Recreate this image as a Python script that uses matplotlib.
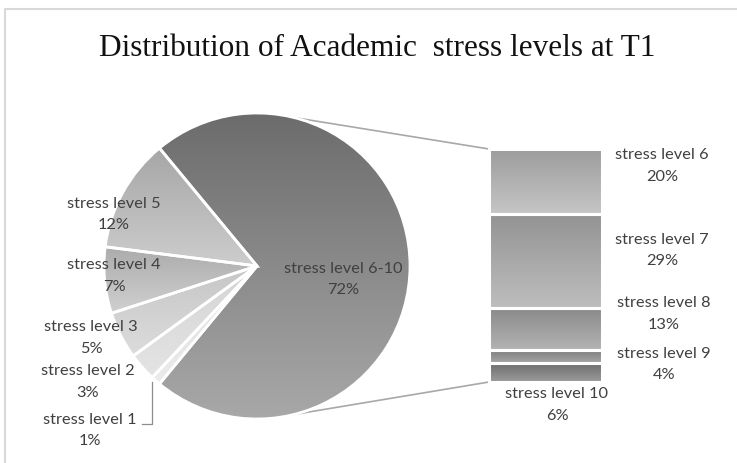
import numpy as np
import matplotlib.pyplot as plt
from matplotlib.colors import LinearSegmentedColormap

# pie: the "6-10" group first, then levels 5..1 counter-clockwise
pie_labels = ["stress level 6-10", "stress level 5", "stress level 4",
              "stress level 3", "stress level 2", "stress level 1"]
pie_values = [72, 12, 7, 5, 3, 1]
pie_top = ["#6c6c6c", "#a6a6a6", "#ababab", "#c6c6c6", "#d4d4d4", "#dedede"]
pie_bot = ["#a8a8a8", "#cdcdcd", "#d0d0d0", "#dcdcdc", "#e4e4e4", "#ebebeb"]

# bar of pie, stacked from the bottom
bar_labels = ["stress level 10", "stress level 9", "stress level 8",
              "stress level 7", "stress level 6"]
bar_values = [6, 4, 13, 29, 20]
bar_top = ["#6a6a6a", "#7c7c7c", "#898989", "#939393", "#9c9c9c"]
bar_bot = ["#9c9c9c", "#a6a6a6", "#b4b4b4", "#bebebe", "#c6c6c6"]

title = "Distribution of Academic  stress levels at T1"

W, H = 737, 464
fig = plt.figure(figsize=(W / 100, H / 100), dpi=100)
ax = fig.add_axes([0, 0, 1, 1])

grad = np.linspace(0, 1, 256).reshape(-1, 1)


def fill_gradient(patch, c_top, c_bot):
    ext = patch.get_path().get_extents(patch.get_patch_transform())
    cmap = LinearSegmentedColormap.from_list("g", [c_top, c_bot])
    im = ax.imshow(grad, cmap=cmap, extent=(ext.x0, ext.x1, ext.y0, ext.y1),
                   aspect="auto", origin="upper", zorder=1)
    im.set_clip_path(patch)


# pie
cx, cy, r = 257, 197, 153
start = -pie_values[0] / sum(pie_values) * 180
wedges, _ = ax.pie(pie_values, radius=r, center=(cx, cy), startangle=start,
                   counterclock=True, frame=True,
                   wedgeprops=dict(edgecolor="white", linewidth=2))
for w, ct, cb in zip(wedges, pie_top, pie_bot):
    fill_gradient(w, ct, cb)
    w.set_facecolor("none")
    w.set_zorder(3)

# bar
bar_x0, bar_x1 = 489, 602
bar_y0, bar_y1 = 81, 314
scale = (bar_y1 - bar_y0) / sum(bar_values)
heights = [v * scale for v in bar_values]
bottoms = bar_y0 + np.concatenate([[0], np.cumsum(heights)[:-1]])
bars = ax.bar((bar_x0 + bar_x1) / 2, heights, bottom=bottoms,
              width=bar_x1 - bar_x0, edgecolor="white", linewidth=2.2)
for b, ct, cb in zip(bars, bar_top, bar_bot):
    fill_gradient(b, ct, cb)
    b.set_facecolor("none")
    b.set_zorder(3)

# connector lines
ang = np.deg2rad(76)
ax.plot([cx + r * np.cos(ang), bar_x0], [cy + r * np.sin(ang), bar_y1],
        color="#a8a8a8", lw=1.2, zorder=2)
ax.plot([cx + r * np.cos(-ang), bar_x0], [cy + r * np.sin(-ang), bar_y0],
        color="#a8a8a8", lw=1.2, zorder=2)

# labels
txt = dict(family="Lato", fontsize=11.8, color="#404040", ha="center",
           va="center", linespacing=1.65, zorder=5)
pie_pos = [(343, 184.5), (114, 249.5), (114, 188), (91, 126), (88, 82), (90, 33.5)]
for lab, v, (x, y) in zip(pie_labels, pie_values, pie_pos):
    ax.text(x, y, f"{lab}\n{v}%", **txt)
bar_pos = [(557, 59), (664, 99.5), (664, 150), (662, 213.5), (662, 298)]
for lab, v, (x, y) in zip(bar_labels, bar_values, bar_pos):
    ax.text(x, y, f"{lab}\n{v}%", **txt)

# leader for level 1
ax.plot([152, 152, 142], [81, 39, 39], color="#8c8c8c", lw=0.9, zorder=2)

ax.text(377, 408, title, family="Liberation Serif", fontsize=22.5,
        color="#111111", ha="center", va="baseline")

# chart border
ax.plot([5.5, 5.5, W], [0, 454.5, 454.5], color="#d9d9d9", lw=1.5, zorder=0)

ax.set_xlim(0, W)
ax.set_ylim(0, H)
ax.set_aspect("auto")
ax.axis("off")

fig.savefig("out.png", dpi=100)
